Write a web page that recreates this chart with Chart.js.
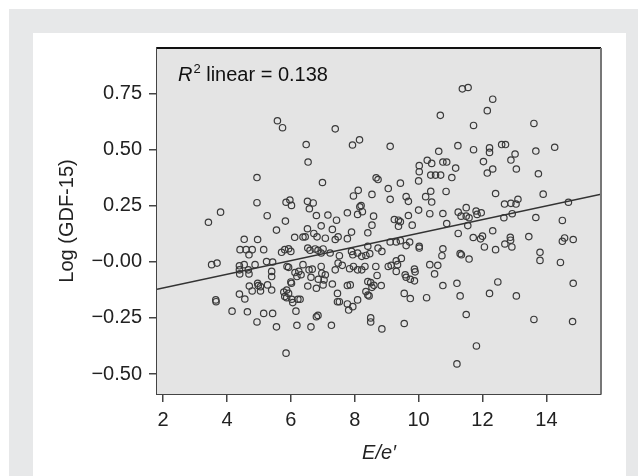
<!DOCTYPE html>
<html>
<head>
<meta charset="utf-8">
<script src="https://cdn.jsdelivr.net/npm/chart.js@4.4.0/dist/chart.umd.min.js"></script>
<style>
  body { margin: 0; background: #fff; }
  #frame { position: absolute; left: 9px; top: 9px; width: 640px; height: 480px; background: #e7e8e9; }
  #panel { position: absolute; left: 33px; top: 33px; width: 593px; height: 443px; background: #fff; }
  #wrap { position: absolute; left: 0; top: 0; width: 638px; height: 476px; }
</style>
</head>
<body>
<div id="frame"></div>
<div id="panel"></div>
<div id="wrap"><canvas id="chart"></canvas></div>
<script>
// E/e' values (x) and Log (GDF-15) values (y)
const eRatio = [
  11.37, 11.55, 12.32, 12.15, 10.68, 13.61, 11.72, 5.58, 5.74, 7.39,
  6.48, 7.93, 8.15, 9.11, 11.23, 12.60, 12.72, 12.22, 14.26, 11.72,
  12.22, 13.67, 13.02, 10.63, 6.54, 10.27, 10.41, 10.76, 10.88, 12.03,
  12.89, 10.02, 11.16, 12.32, 12.15, 13.06, 13.75, 10.38, 10.53, 10.69,
  10.02, 11.04, 4.94, 8.67, 8.73, 10.00, 6.99, 9.43, 9.05, 10.38,
  10.86, 8.11, 7.96, 8.54, 10.22, 9.11, 9.61, 9.68, 10.41, 12.41,
  13.90, 13.11, 14.69, 12.69, 12.89, 13.05, 4.94, 5.85, 5.97, 6.02,
  6.52, 6.70, 6.58, 3.80, 3.42, 5.26, 5.83, 5.55, 6.52, 6.80,
  7.16, 7.43, 7.77, 8.16, 8.20, 8.09, 8.24, 8.59, 10.00, 10.35,
  10.76, 11.24, 11.49, 11.49, 11.58, 11.80, 11.83, 11.96, 11.33, 12.67,
  12.93, 13.67, 14.50, 11.54, 10.88, 9.80, 9.24, 9.37, 9.43, 9.37,
  9.68, 8.54, 8.41, 7.90, 7.77, 7.48, 7.30, 6.95, 6.72, 6.82,
  7.08, 7.39, 6.45, 6.38, 4.54, 4.96, 4.41, 4.60, 4.79, 5.15,
  4.69, 5.71, 5.81, 5.93, 6.00, 6.53, 6.60, 6.76, 6.85, 7.01,
  6.95, 7.23, 7.52, 7.90, 7.94, 8.09, 8.22, 8.35, 8.41, 8.47,
  8.73, 8.85, 9.11, 9.30, 9.43, 9.72, 9.61, 10.02, 10.02, 10.76,
  10.73, 11.30, 11.34, 11.58, 11.71, 11.24, 11.94, 12.00, 12.06, 12.32,
  12.41, 12.70, 12.87, 12.88, 12.92, 13.45, 13.80, 13.80, 14.50, 14.57,
  14.84, 14.44, 14.84, 14.82, 13.61, 13.06, 12.22, 12.48, 11.49, 11.81,
  11.20, 11.30, 11.20, 10.76, 10.60, 10.35, 10.50, 10.25, 9.87, 9.89,
  9.87, 9.74, 9.55, 9.61, 9.74, 9.58, 9.46, 9.30, 9.34, 9.14,
  9.05, 9.30, 9.55, 8.85, 8.50, 8.50, 8.66, 8.70, 8.83, 8.60,
  8.54, 8.41, 8.50, 8.35, 8.41, 8.45, 8.32, 8.22, 8.09, 7.96,
  7.84, 8.09, 7.94, 7.77, 7.81, 7.77, 7.86, 7.61, 7.48, 7.39,
  7.46, 7.46, 7.52, 7.27, 7.30, 7.08, 7.04, 7.01, 6.95, 6.97,
  6.86, 6.80, 6.80, 6.85, 6.63, 6.53, 6.63, 6.57, 6.67, 6.38,
  6.32, 6.25, 6.19, 6.13, 6.00, 6.02, 5.88, 5.93, 5.87, 5.93,
  5.81, 5.87, 6.03, 6.06, 6.22, 6.29, 6.16, 6.19, 5.85, 5.55,
  5.43, 5.78, 5.40, 5.40, 5.40, 5.24, 5.43, 5.27, 5.15, 4.94,
  4.96, 4.98, 5.05, 5.05, 4.79, 4.70, 4.64, 4.56, 4.39, 4.16,
  4.88, 4.67, 4.54, 4.39, 4.39, 4.40, 4.69, 3.52, 3.69, 3.65,
  3.66, 6.12
];
const logGdf = [
  0.770, 0.776, 0.724, 0.673, 0.652, 0.616, 0.607, 0.628, 0.597, 0.592,
  0.522, 0.520, 0.543, 0.514, 0.517, 0.522, 0.522, 0.507, 0.510, 0.499,
  0.487, 0.493, 0.480, 0.492, 0.444, 0.452, 0.438, 0.444, 0.444, 0.446,
  0.453, 0.428, 0.417, 0.413, 0.395, 0.413, 0.392, 0.386, 0.386, 0.386,
  0.401, 0.375, 0.375, 0.374, 0.366, 0.360, 0.353, 0.350, 0.326, 0.314,
  0.313, 0.318, 0.293, 0.300, 0.290, 0.278, 0.290, 0.269, 0.266, 0.304,
  0.301, 0.278, 0.265, 0.257, 0.260, 0.257, 0.263, 0.265, 0.275, 0.251,
  0.269, 0.262, 0.236, 0.221, 0.176, 0.205, 0.181, 0.141, 0.147, 0.206,
  0.208, 0.185, 0.218, 0.245, 0.250, 0.211, 0.223, 0.203, 0.230, 0.214,
  0.215, 0.221, 0.241, 0.203, 0.196, 0.226, 0.211, 0.218, 0.203, 0.196,
  0.214, 0.197, 0.184, 0.161, 0.170, 0.163, 0.188, 0.185, 0.178, 0.158,
  0.206, 0.163, 0.129, 0.132, 0.103, 0.111, 0.144, 0.160, 0.126, 0.111,
  0.105, 0.099, 0.111, 0.110, 0.100, 0.099, 0.054, 0.054, 0.054, 0.054,
  0.031, 0.042, 0.054, 0.058, 0.046, 0.061, 0.051, 0.057, 0.051, 0.057,
  0.039, 0.039, 0.027, 0.046, 0.031, 0.039, 0.024, 0.028, 0.069, 0.036,
  0.061, 0.046, 0.088, 0.088, 0.094, 0.088, 0.072, 0.069, 0.061, 0.058,
  0.027, 0.036, 0.031, 0.012, 0.108, 0.126, 0.102, 0.114, 0.066, 0.138,
  0.054, 0.079, 0.109, 0.096, 0.066, 0.112, 0.042, 0.006, 0.091, 0.106,
  0.099, -0.003, -0.096, -0.266, -0.257, -0.152, -0.141, -0.090, -0.235, -0.375,
  -0.455, -0.152, -0.096, -0.106, -0.016, -0.013, -0.054, -0.160, -0.033, -0.045,
  -0.085, -0.164, -0.141, -0.069, -0.078, -0.058, 0.015, 0.004, -0.013, -0.016,
  -0.021, -0.043, -0.275, -0.299, -0.250, -0.268, -0.021, -0.061, -0.106, -0.105,
  -0.114, -0.088, -0.093, -0.133, -0.148, -0.152, -0.021, -0.036, -0.036, -0.021,
  -0.031, -0.170, -0.200, -0.188, -0.215, -0.106, -0.103, -0.016, -0.006, -0.036,
  -0.141, -0.178, -0.178, -0.283, -0.099, -0.058, -0.081, -0.103, -0.021, -0.051,
  -0.078, -0.118, -0.245, -0.239, -0.290, -0.108, -0.069, -0.036, -0.033, -0.013,
  -0.058, -0.043, -0.066, -0.048, -0.090, -0.096, -0.021, -0.025, -0.126, -0.141,
  -0.155, -0.160, -0.167, -0.182, -0.167, -0.167, -0.220, -0.283, -0.407, -0.290,
  -0.230, -0.135, -0.126, -0.066, -0.043, 0.001, -0.001, -0.103, -0.230, -0.268,
  -0.096, -0.106, -0.111, -0.130, -0.130, -0.108, -0.223, -0.166, -0.144, -0.220,
  -0.013, -0.036, -0.013, -0.018, -0.036, -0.054, -0.054, -0.013, -0.006, -0.170,
  -0.178, 0.109
];
// fit line end points
const fitX = [1.81, 15.71];
const fitY = [-0.123, 0.301];
const xTicks = [2, 4, 6, 8, 10, 12, 14];
const yTicks = [-0.5, -0.25, 0, 0.25, 0.5, 0.75];

Chart.defaults.font.family = '"Liberation Sans", Arial, sans-serif';
Chart.defaults.font.size = 20;
Chart.defaults.color = '#222';

const plotFrame = {
  id: 'plotFrame',
  beforeDatasetsDraw(chart) {
    const {ctx, chartArea: a} = chart;
    ctx.save();
    ctx.fillStyle = '#e4e4e4';
    ctx.fillRect(a.left, a.top, a.right - a.left, a.bottom - a.top);
    ctx.restore();
  },
  afterDatasetsDraw(chart) {
    const {ctx, chartArea: a} = chart;
    ctx.save();
    ctx.lineWidth = 2;
    ctx.strokeStyle = '#111';
    ctx.beginPath(); ctx.moveTo(a.left, a.top); ctx.lineTo(a.right, a.top); ctx.stroke();
    ctx.strokeStyle = '#777';
    ctx.beginPath(); ctx.moveTo(a.right, a.top); ctx.lineTo(a.right, a.bottom); ctx.stroke();
    // R² label
    ctx.fillStyle = '#111';
    ctx.textBaseline = 'alphabetic';
    let x = a.left + 21, y = a.top + 33;
    ctx.font = 'italic 20px "Liberation Sans", Arial, sans-serif';
    ctx.fillText('R', x, y);
    x += ctx.measureText('R').width + 1;
    ctx.font = '13px "Liberation Sans", Arial, sans-serif';
    ctx.fillText('2', x, y - 8);
    x += ctx.measureText('2').width;
    ctx.font = '20px "Liberation Sans", Arial, sans-serif';
    ctx.fillText(' linear = 0.138', x, y);
    ctx.restore();
  }
};

new Chart(document.getElementById('chart'), {
  type: 'scatter',
  data: {
    datasets: [{
      type: 'line',
      data: fitX.map((v, i) => ({x: v, y: fitY[i]})),
      borderColor: '#333',
      borderWidth: 1.5,
      pointRadius: 0,
      fill: false
    }, {
      data: eRatio.map((v, i) => ({x: v, y: logGdf[i]})),
      pointRadius: 3.2,
      pointBorderWidth: 1.2,
      pointBorderColor: '#3a3a3a',
      pointBackgroundColor: 'rgba(0,0,0,0)'
    }]
  },
  options: {
    responsive: true,
    maintainAspectRatio: false,
    animation: false,
    layout: { padding: { left: 0, top: 48, right: 37, bottom: 0 } },
    plugins: { legend: { display: false }, tooltip: { enabled: false } },
    scales: {
      x: {
        type: 'linear',
        min: 1.81,
        max: 15.71,
        afterFit: s => { s.height = 82; },
        afterBuildTicks: s => { s.ticks = xTicks.map(v => ({value: v})); },
        grid: { drawOnChartArea: false, tickLength: 8, color: '#444', lineWidth: 1.5 },
        border: { color: '#444', width: 2 },
        ticks: { padding: 6, color: '#222', maxRotation: 0, callback: v => String(v) },
        title: { display: true, text: 'E/e\u2032', font: { style: 'italic', size: 20 }, padding: { bottom: 11 }, color: '#222' }
      },
      y: {
        min: -0.589,
        max: 0.952,
        afterFit: s => { s.width = 157; },
        afterBuildTicks: s => { s.ticks = yTicks.map(v => ({value: v})); },
        grid: { drawOnChartArea: false, tickLength: 8, color: '#444', lineWidth: 1.5 },
        border: { color: '#444', width: 2 },
        ticks: {
          padding: 7, color: '#222',
          callback: v => (v <= 0 ? '\u2212' : '') + Math.abs(v).toFixed(2)
        },
        title: { display: true, text: 'Log (GDF-15)', font: { size: 20 }, padding: { top: 55 }, color: '#222' }
      }
    }
  },
  plugins: [plotFrame]
});
</script>
</body>
</html>
